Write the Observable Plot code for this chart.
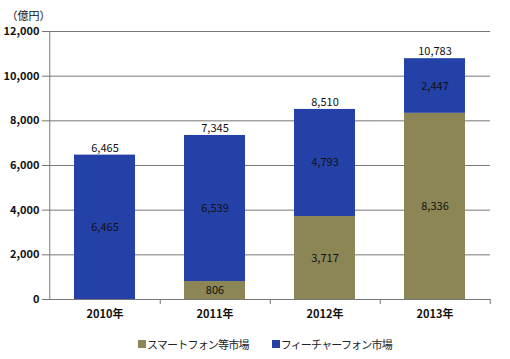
<!DOCTYPE html>
<html><head><meta charset="utf-8">
<script src="https://cdn.jsdelivr.net/npm/d3@7"></script>
<script src="https://cdn.jsdelivr.net/npm/@observablehq/plot@0.6"></script>
<style>
body{margin:0;background:#fff;font-family:"Noto Sans CJK JP",sans-serif;}
#chart svg{display:block;}
.legend{display:flex;gap:23px;margin-left:138px;height:31px;align-items:center;font-size:11px;letter-spacing:-0.8px;color:#222;}
.legend span{display:inline-flex;align-items:center;}
.legend i{display:inline-block;width:8px;height:8px;margin-right:1px;}
</style></head><body>
<div id="chart"></div>
<div class="legend"><span><i style="background:#8c8656"></i>スマートフォン等市場</span><span><i style="background:#2441a8"></i>フィーチャーフォン市場</span></div>
<script>
const years = ["2010年","2011年","2012年","2013年"];
const smart = [0, 806, 3717, 8336];
const feature = [6465, 6539, 4793, 2447];
const totals = [6465, 7345, 8510, 10783];
const series = ["スマートフォン等市場","フィーチャーフォン市場"];
const colors = ["#8c8656","#2441a8"];
const yTicks = [0,2000,4000,6000,8000,10000,12000];

const rows = [];
years.forEach((y,i)=>{
  rows.push({year:y, s:series[0], v:smart[i]});
  rows.push({year:y, s:series[1], v:feature[i]});
});
const tot = years.map((y,i)=>({year:y, v:totals[i]}));
const fmt = d3.format(",");
const W = 510, mL = 48, mR = 20;
const step = (W - mL - mR) / years.length;

const plot = Plot.plot({
  width: W, height: 328,
  marginLeft: mL, marginRight: mR, marginTop: 31, marginBottom: 29,
  style: {fontFamily: '"Noto Sans CJK JP", sans-serif', fontSize: "11px", color: "#111"},
  x: {domain: years, paddingInner: 0.45, paddingOuter: 0.225, label: null},
  y: {domain: [0, 12000], label: null},
  color: {domain: series, range: colors},
  marks: [
    Plot.ruleY(yTicks, {stroke: "#777", strokeWidth: 1}),
    Plot.barY(rows.filter(d=>d.v>0), {x: "year", y: "v", fill: "s", order: series}),
    Plot.text(rows.filter(d=>d.v>0), Plot.stackY({x: "year", y: "v", z: "s", order: series, text: d=>fmt(d.v), fill: "#111", fontSize: 11})),
    Plot.text(tot, {x: "year", y: "v", text: d=>fmt(d.v), dy: -7, fill: "#111", fontSize: 11}),
    Plot.ruleX([years[0]], {dx: -step/2, stroke: "#777"}),
    Plot.axisY({ticks: yTicks, tickFormat: fmt, tickSize: 6, stroke: "#777", tickPadding: 3, fontSize: 11, fontWeight: 600, color: "#111"}),
    Plot.axisX({tickSize: 0, tickPadding: 11, fontSize: 11, fontWeight: 600}),
    Plot.axisX({tickSize: 5, tickFormat: null, dx: step/2, stroke: "#777"}),
    Plot.text(["（億円）"], {frameAnchor: "top-left", dx: -42, dy: -15, textAnchor: "start", lineAnchor: "middle", fontSize: 11, fill: "#111"})
  ]
});
document.getElementById("chart").appendChild(plot);
</script>
</body></html>
